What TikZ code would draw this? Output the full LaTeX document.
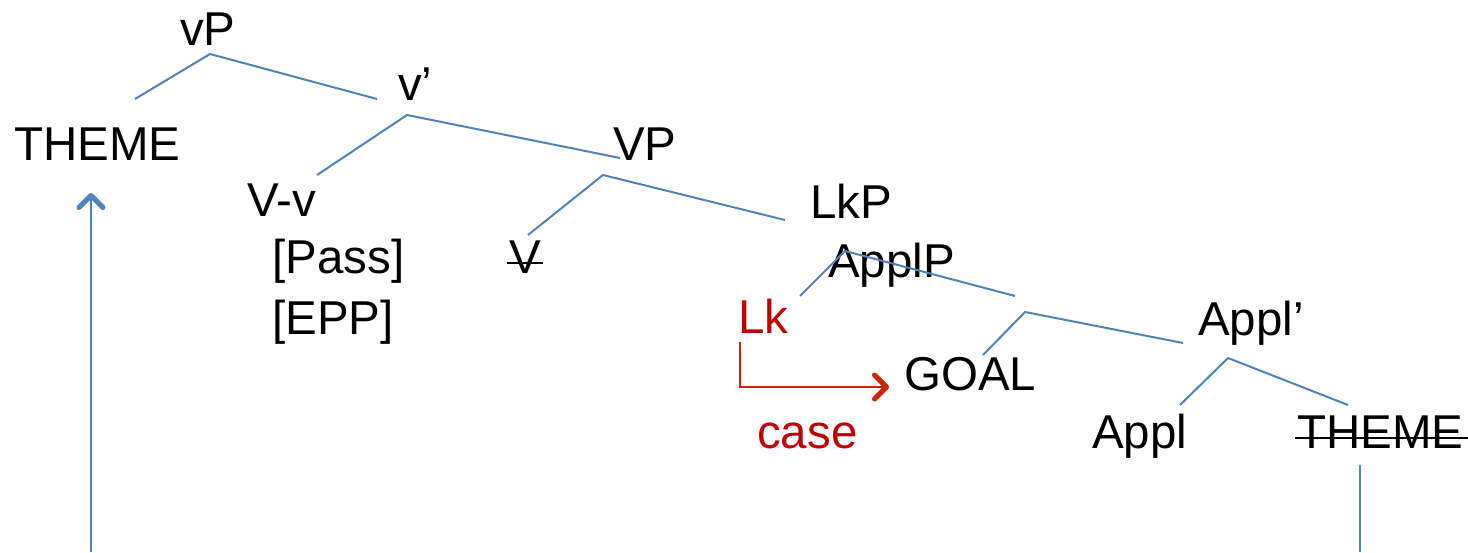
\documentclass[tikz,border=0pt]{standalone}
\usepackage{fontspec}
\setmainfont{Liberation Sans}
\usetikzlibrary{arrows.meta}
\definecolor{treeblue}{RGB}{79,129,189}
\definecolor{lkred}{RGB}{192,0,0}
\definecolor{arrred}{RGB}{210,35,0}
\tikzset{
  lbl/.style={anchor=base west,inner sep=0pt,font=\fontsize{47.5}{52}\selectfont},
  branch/.style={treeblue,line width=2pt},
  strike/.style={black,line width=2.2pt},
  barb/.style={-{Straight Barb[length=12pt,width=24pt,line width'=5pt,round]}},
}
\begin{document}
\begin{tikzpicture}[x=1pt,y=-1pt]
\useasboundingbox (0,0) rectangle (1468,552);
% labels
\node[lbl] (vP) at (180,45) {vP};
\node[lbl] (vbar) at (398,100) {v’};
\node[lbl] (themeA) at (14,160) {THEME};
\node[lbl] (VP) at (613,160) {VP};
\node[lbl] (Vv) at (247,216) {V-v};
\node[lbl] (pass) at (272,273) {[Pass]};
\node[lbl] (epp) at (272,334) {[EPP]};
\node[lbl] (V) at (509,273) {V};
\node[lbl] (LkP) at (810,218) {LkP};
\node[lbl] (ApplP) at (828,277) {ApplP};
\node[lbl,text=lkred] (Lk) at (738,333) {Lk};
\node[lbl] (GOAL) at (904,390) {GOAL};
\node[lbl] (Applbar) at (1198,335) {Appl’};
\node[lbl,text=lkred] (case) at (757,448) {case};
\node[lbl] (Appl) at (1092,448) {Appl};
\node[lbl] (themeB) at (1297,448) {THEME};
% strikethroughs
\draw[strike] ([xshift=-2pt,yshift=10pt]V.base west) -- ([xshift=2pt,yshift=10pt]V.base east);
\draw[strike] ([xshift=-2pt,yshift=10pt]themeB.base west) -- ([xshift=4pt,yshift=10pt]themeB.base east);
% tree coordinates
\coordinate (a1) at (210,54);  \coordinate (a1l) at (135,99);  \coordinate (a1r) at (377,99);
\coordinate (a2) at (407,115); \coordinate (a2l) at (317,175); \coordinate (a2r) at (620,158);
\coordinate (a3) at (603,175); \coordinate (a3l) at (528,235); \coordinate (a3r) at (785,220);
\coordinate (a4) at (845,251); \coordinate (a4l) at (800,296); \coordinate (a4r) at (1015,296);
\coordinate (a5) at (1025,312); \coordinate (a5l) at (983,355); \coordinate (a5r) at (1183,343);
\coordinate (a6) at (1228,358); \coordinate (a6l) at (1180,405); \coordinate (a6r) at (1348,405);
\draw[branch] (a1l) -- (a1) -- (a1r);
\draw[branch] (a2l) -- (a2) -- (a2r);
\draw[branch] (a3l) -- (a3) -- (a3r);
\draw[branch] (a4l) -- (a4) -- (a4r);
\draw[branch] (a5l) -- (a5) -- (a5r);
\draw[branch] (a6l) -- (a6) -- (a6r);
% movement
\coordinate (tb) at (1360,465); \coordinate (tbend) at (1360,552);
\draw[branch] (tb) -- (tbend);
\coordinate (up0) at (91,552); \coordinate (up1) at (91,193);
\draw[branch,barb] (up0) -- (up1);
% case arrow
\coordinate (c0) at (740,342); \coordinate (c1) at (740,387); \coordinate (c2) at (889,387);
\draw[arrred,line width=1.6pt,barb] (c0) -- (c1) -- (c2);
\end{tikzpicture}
\end{document}
